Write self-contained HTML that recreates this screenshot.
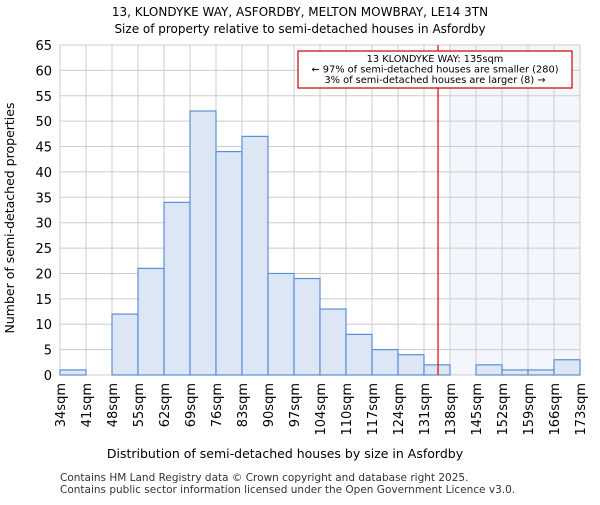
<!DOCTYPE html>
<html><head><meta charset="utf-8"><style>body{margin:0;background:#fff}svg{font-family:"DejaVu Sans","Liberation Sans",sans-serif}</style></head>
<body>
<svg id="c" width="600" height="500" xmlns="http://www.w3.org/2000/svg">
<text x="300" y="16" text-anchor="middle" font-size="12">13, KLONDYKE WAY, ASFORDBY, MELTON MOWBRAY, LE14 3TN</text>
<text x="300" y="33" text-anchor="middle" font-size="12">Size of property relative to semi-detached houses in Asfordby</text>
<g id="plot"></g>
<text x="285" y="458" text-anchor="middle" font-size="12.5">Distribution of semi-detached houses by size in Asfordby</text>
<text transform="translate(14,218) rotate(-90)" text-anchor="middle" font-size="12.5">Number of semi-detached properties</text>
<text x="60" y="481" font-size="10.5" fill="#333">Contains HM Land Registry data © Crown copyright and database right 2025.</text>
<text x="60" y="493" font-size="10.5" fill="#333">Contains public sector information licensed under the Open Government Licence v3.0.</text>
</svg>
<script>
const categories=["34sqm","41sqm","48sqm","55sqm","62sqm","69sqm","76sqm","83sqm","90sqm","97sqm","104sqm","110sqm","117sqm","124sqm","131sqm","138sqm","145sqm","152sqm","159sqm","166sqm","173sqm"];
const counts=[1,0,12,21,34,52,44,47,20,19,13,8,5,4,2,0,2,1,1,3];
const yTicks=[0,5,10,15,20,25,30,35,40,45,50,55,60,65];
const markerBin=14.54;
const highlightFrom=15;
const NS="http://www.w3.org/2000/svg";
const L=60,R=580,T=45,B=375,yMax=65;
const bw=(R-L)/counts.length;
const xs=i=>L+i*bw, ys=v=>B-(v/yMax)*(B-T);
const g=document.getElementById('plot');
function mk(t,a,p){const e=document.createElementNS(NS,t);for(const k in a)e.setAttribute(k,a[k]);(p||g).appendChild(e);return e;}
let e=mk('rect',{x:xs(highlightFrom),y:T,width:R-xs(highlightFrom),height:B-T,fill:'#f3f6fc'});


yTicks.forEach(v=>{e=mk('line',{x1:L,x2:R,y1:ys(v),y2:ys(v),stroke:'#ccc'});


e=mk('text',{x:L-8,y:ys(v)+5,'text-anchor':'end','font-size':13});e.textContent=v;

});
categories.forEach((c,i)=>{e=mk('line',{x1:xs(i),x2:xs(i),y1:T,y2:B,stroke:'#ccc'});


e=mk('text',{transform:`translate(${xs(i)+5},${B+8}) rotate(-90)`,'text-anchor':'end','font-size':13});e.textContent=c;

});
counts.forEach((v,i)=>{if(v<=0)return;e=mk('rect',{x:xs(i),y:ys(v),width:bw,height:B-ys(v),fill:'#dce6f4',stroke:'#5b8fd6','stroke-width':1.2});

});
e=mk('line',{x1:xs(markerBin),x2:xs(markerBin),y1:T,y2:B,stroke:'#d00','stroke-width':1.2});


e=mk('rect',{x:298,y:51,width:274,height:37,fill:'#fff',stroke:'#c00','stroke-width':1.2});


["13 KLONDYKE WAY: 135sqm","← 97% of semi-detached houses are smaller (280)","3% of semi-detached houses are larger (8) →"].forEach((t,i)=>{e=mk('text',{x:435,y:62+i*10.5,'text-anchor':'middle','font-size':9.8});e.textContent=t;

});
</script>
</body></html>
